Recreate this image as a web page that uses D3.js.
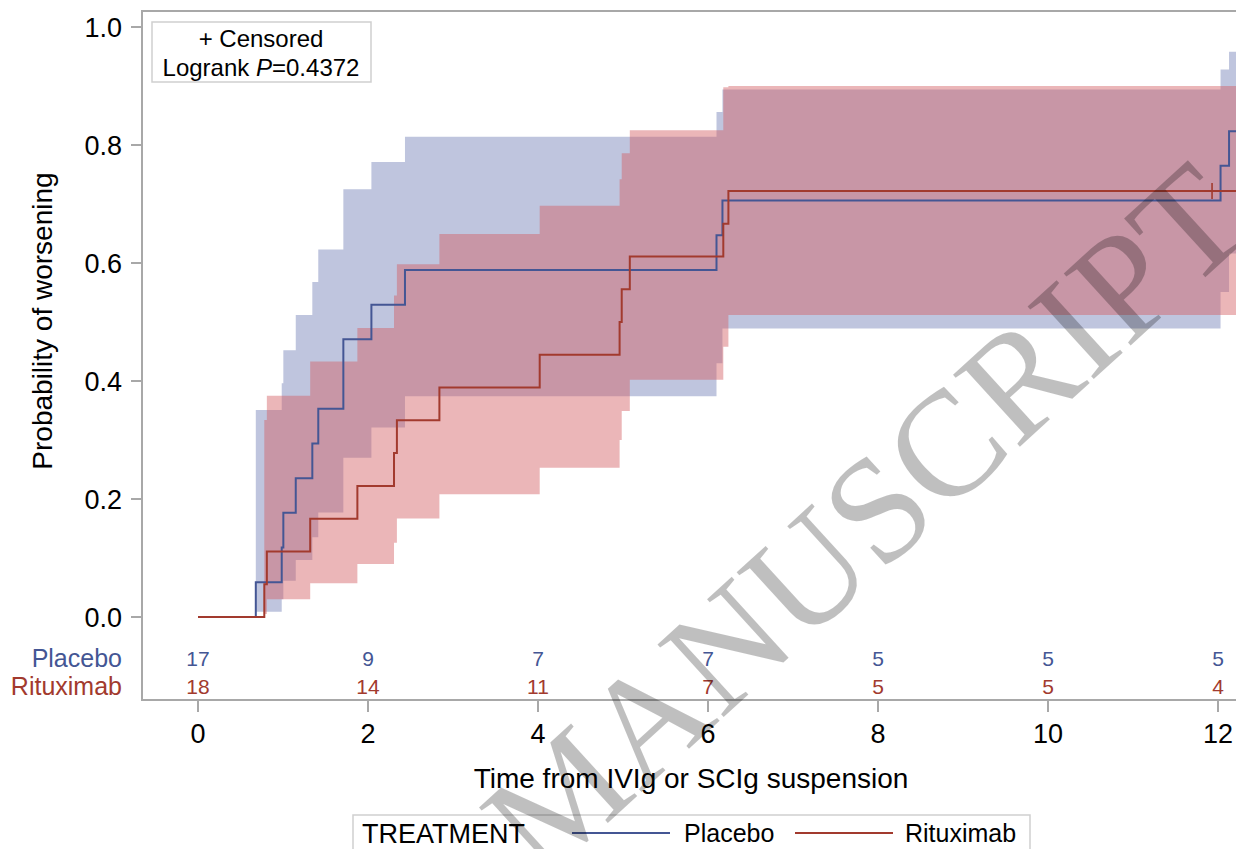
<!DOCTYPE html>
<html>
<head>
<meta charset="utf-8">
<style>
body { margin: 0; background: #fff; }
svg { display: block; font-family: "Liberation Sans", Arial, sans-serif; }
</style>
</head>
<body>
<svg id="km" width="1236" height="849"></svg>
<script src="https://cdn.jsdelivr.net/npm/d3@7/dist/d3.min.js"></script>
<script>
// Kaplan-Meier style cumulative incidence
var placeboTime  = [0, 0.68, 0.985, 1.004, 1.15, 1.345, 1.415, 1.71, 2.04, 2.435, 6.10, 6.17, 12.03, 12.13];
var placeboProb  = [0, 0.0588, 0.1176, 0.1765, 0.2353, 0.2941, 0.3529, 0.4706, 0.5294, 0.5882, 0.6471, 0.7059, 0.7647, 0.8235];
var placeboLower = [0, 0.009, 0.030, 0.0615, 0.0966, 0.135, 0.177, 0.270, 0.321, 0.374, 0.430, 0.489, 0.551, 0.616];
var placeboUpper = [0, 0.351, 0.396, 0.452, 0.512, 0.568, 0.623, 0.725, 0.771, 0.814, 0.856, 0.894, 0.928, 0.958];

var rituxTime  = [0, 0.78, 0.81, 1.32, 1.875, 2.306, 2.34, 2.84, 4.02, 4.96, 4.985, 5.08, 6.18, 6.24];
var rituxProb  = [0, 0.0556, 0.1111, 0.1667, 0.2222, 0.2778, 0.3333, 0.3889, 0.4444, 0.5, 0.5556, 0.6111, 0.6667, 0.7222];
var rituxLower = [0, 0.005, 0.030, 0.057, 0.090, 0.126, 0.167, 0.208, 0.253, 0.300, 0.349, 0.402, 0.458, 0.512];
var rituxUpper = [0, 0.334, 0.375, 0.433, 0.490, 0.545, 0.598, 0.649, 0.697, 0.742, 0.786, 0.825, 0.898, 0.900];
var rituxCensor = [11.93];

var atRiskTimes = [0, 2, 4, 6, 8, 10, 12];
var atRiskPlacebo = [17, 9, 7, 7, 5, 5, 5];
var atRiskRitux = [18, 14, 11, 7, 5, 5, 4];

var xTicks = [0, 2, 4, 6, 8, 10, 12];
var yTicks = [0, 0.2, 0.4, 0.6, 0.8, 1.0];
var endTime = 13;

var blue = "#445694", red = "#A23A2E";

var svg = d3.select("#km");
var x = d3.scaleLinear().domain([0, 12]).range([198, 1218]);
var y = d3.scaleLinear().domain([0, 1]).range([617, 27]);
var frame = {left: 142, top: 11, right: 1300, bottom: 700};

svg.append("clipPath").attr("id", "plotclip")
  .append("rect")
  .attr("x", frame.left).attr("y", frame.top)
  .attr("width", frame.right - frame.left).attr("height", frame.bottom - frame.top);

function steps(time, prob, lo, hi, from) {
  var d = [];
  for (var i = from; i < time.length; i++) d.push({t: time[i], p: prob[i], lo: lo[i], hi: hi[i]});
  var last = d[d.length - 1];
  d.push({t: endTime, p: last.p, lo: last.lo, hi: last.hi});
  return d;
}

var placeboBand = steps(placeboTime, placeboProb, placeboLower, placeboUpper, 1);
var rituxBand = steps(rituxTime, rituxProb, rituxLower, rituxUpper, 1);
var placeboLine = steps(placeboTime, placeboProb, placeboLower, placeboUpper, 0);
var rituxLine = steps(rituxTime, rituxProb, rituxLower, rituxUpper, 0);

var area = d3.area().curve(d3.curveStepAfter)
  .x(function(d) { return x(d.t); })
  .y0(function(d) { return y(d.lo); })
  .y1(function(d) { return y(d.hi); });

var line = d3.line().curve(d3.curveStepAfter)
  .x(function(d) { return x(d.t); })
  .y(function(d) { return y(d.p); });

var plot = svg.append("g").attr("clip-path", "url(#plotclip)");

plot.append("path").datum(placeboBand).attr("d", area).attr("fill", "#bfc5de");
plot.append("path").datum(rituxBand).attr("d", area).attr("fill", "rgb(211,93,98)").attr("fill-opacity", 0.45);

plot.append("path").datum(placeboLine).attr("d", line)
  .attr("fill", "none").attr("stroke", blue).attr("stroke-width", 2);
plot.append("path").datum(rituxLine).attr("d", line)
  .attr("fill", "none").attr("stroke", red).attr("stroke-width", 2);

// censored marks
rituxCensor.forEach(function(t) {
  var p = rituxProb[rituxProb.length - 1];
  plot.append("path")
    .attr("d", d3.symbol().type(d3.symbolCross).size(0))
    .attr("transform", "translate(" + x(t) + "," + y(p) + ")");
  plot.append("line")
    .attr("x1", x(t)).attr("x2", x(t)).attr("y1", y(p) - 8).attr("y2", y(p) + 8)
    .attr("stroke", red).attr("stroke-width", 1.6);
  plot.append("line")
    .attr("x1", x(t) - 8).attr("x2", x(t) + 8).attr("y1", y(p)).attr("y2", y(p))
    .attr("stroke", red).attr("stroke-width", 1.6);
});

// frame
svg.append("rect")
  .attr("x", frame.left).attr("y", frame.top)
  .attr("width", frame.right - frame.left).attr("height", frame.bottom - frame.top)
  .attr("fill", "none").attr("stroke", "#a8a8a8").attr("stroke-width", 2);

// y axis
var yAxis = svg.append("g");
yAxis.selectAll("line").data(yTicks).enter().append("line")
  .attr("x1", frame.left - 11).attr("x2", frame.left)
  .attr("y1", function(d) { return y(d); }).attr("y2", function(d) { return y(d); })
  .attr("stroke", "#a8a8a8").attr("stroke-width", 2);
yAxis.selectAll("text").data(yTicks).enter().append("text")
  .attr("x", 122).attr("y", function(d) { return y(d); })
  .attr("dy", "0.36em").attr("text-anchor", "end")
  .attr("font-size", 27).attr("fill", "#000")
  .text(d3.format(".1f"));

svg.append("text")
  .attr("transform", "translate(52,321) rotate(-90)")
  .attr("text-anchor", "middle")
  .attr("font-size", 28)
  .text("Probability of worsening");

// x axis
var xAxis = svg.append("g");
xAxis.selectAll("line").data(xTicks).enter().append("line")
  .attr("x1", function(d) { return x(d); }).attr("x2", function(d) { return x(d); })
  .attr("y1", frame.bottom).attr("y2", frame.bottom + 12)
  .attr("stroke", "#a8a8a8").attr("stroke-width", 2);
xAxis.selectAll("text").data(xTicks).enter().append("text")
  .attr("x", function(d) { return x(d); }).attr("y", 733)
  .attr("dy", "0.36em").attr("text-anchor", "middle")
  .attr("font-size", 27)
  .text(function(d) { return d; });

svg.append("text")
  .attr("x", 691).attr("y", 778).attr("dy", "0.36em")
  .attr("text-anchor", "middle").attr("font-size", 28)
  .text("Time from IVIg or SCIg suspension");

// numbers at risk
var rows = [
  {name: "Placebo", values: atRiskPlacebo, color: blue, y: 658},
  {name: "Rituximab", values: atRiskRitux, color: red, y: 686}
];
rows.forEach(function(r) {
  svg.append("text")
    .attr("x", 122).attr("y", r.y).attr("dy", "0.36em")
    .attr("text-anchor", "end").attr("font-size", 25).attr("fill", r.color)
    .text(r.name);
  svg.selectAll(null).data(atRiskTimes).enter().append("text")
    .attr("x", function(d) { return x(d); }).attr("y", r.y).attr("dy", "0.36em")
    .attr("text-anchor", "middle").attr("font-size", 21).attr("fill", r.color)
    .text(function(d, i) { return r.values[i]; });
});

// inset legend
svg.append("rect")
  .attr("x", 152).attr("y", 22).attr("width", 219).attr("height", 60)
  .attr("fill", "#fff").attr("stroke", "#cfcfcf").attr("stroke-width", 1.5);
svg.append("text")
  .attr("x", 261).attr("y", 38).attr("dy", "0.36em")
  .attr("text-anchor", "middle").attr("font-size", 24)
  .text("+ Censored");
var lr = svg.append("text")
  .attr("x", 261).attr("y", 67).attr("dy", "0.36em")
  .attr("text-anchor", "middle").attr("font-size", 24);
lr.append("tspan").text("Logrank ");
lr.append("tspan").attr("font-style", "italic").text("P");
lr.append("tspan").text("=0.4372");

// bottom legend
var lg = svg.append("g");
lg.append("rect")
  .attr("x", 353).attr("y", 815).attr("width", 677).attr("height", 60)
  .attr("fill", "#fff").attr("stroke", "#cfcfcf").attr("stroke-width", 1.5);
lg.append("text").attr("x", 362).attr("y", 833).attr("dy", "0.36em")
  .attr("font-size", 27).text("TREATMENT");
var entries = [
  {name: "Placebo", color: blue, x0: 572, x1: 670, tx: 684},
  {name: "Rituximab", color: red, x0: 795, x1: 893, tx: 905}
];
entries.forEach(function(e) {
  lg.append("line").attr("x1", e.x0).attr("x2", e.x1).attr("y1", 833).attr("y2", 833)
    .attr("stroke", e.color).attr("stroke-width", 2);
  lg.append("text").attr("x", e.tx).attr("y", 833).attr("dy", "0.36em")
    .attr("font-size", 25).text(e.name);
});

// watermark
svg.append("text")
  .attr("transform", "translate(899,557) rotate(-42.4)")
  .attr("text-anchor", "middle")
  .attr("font-family", "'Liberation Serif', 'Times New Roman', serif")
  .attr("font-size", 150)
  .attr("fill", "#000").attr("fill-opacity", 0.25)
  .text("MANUSCRIPT");
</script>
</body>
</html>
